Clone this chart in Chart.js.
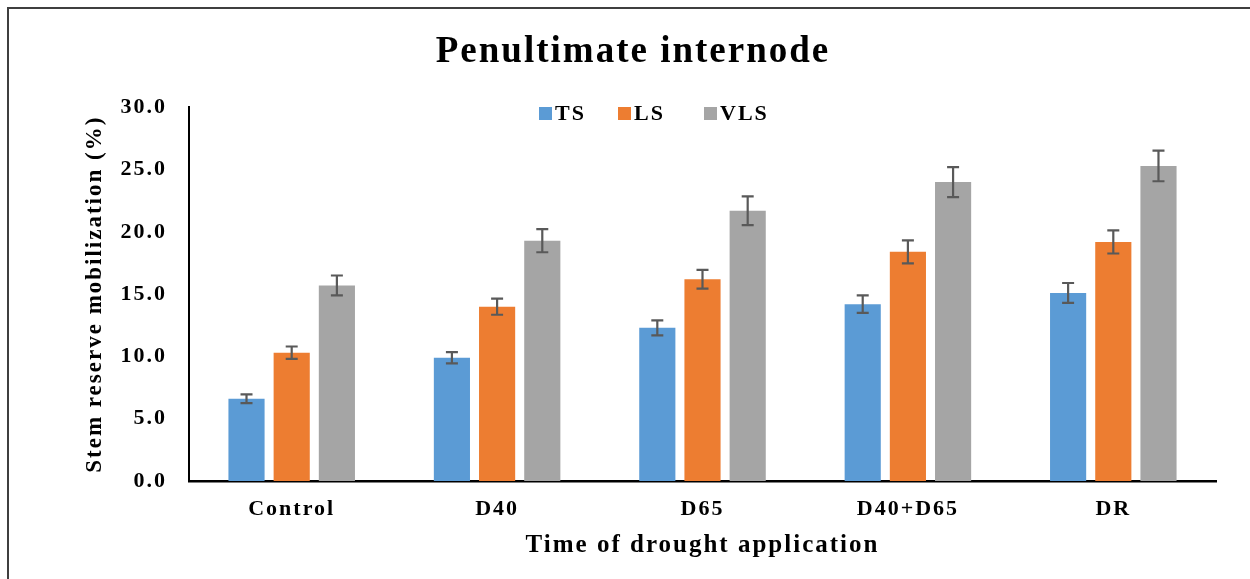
<!DOCTYPE html>
<html lang="en">
<head>
  <meta charset="UTF-8" />
  <title>Penultimate internode</title>
  <script src="https://cdn.jsdelivr.net/npm/chart.js"></script>
  <style>
    html, body {
      margin: 0;
      padding: 0;
      background: #fff;
    }
    .wrap {
      position: relative;
      width: 1250px;
      height: 579px;
    }
    .frame {
      position: absolute;
      left: 7px;
      top: 7px;
      right: -10px;
      bottom: -10px;
      border-left: 2px solid #3f3f3f;
      border-top: 2px solid #3f3f3f;
      pointer-events: none;
    }
  </style>
</head>
<body>
  <div class="wrap">
    <canvas id="chart" width="1250" height="579"></canvas>
    <div class="frame"></div>
  </div>

  <script>
    const categories = ["Control", "D40", "D65", "D40+D65", "DR"];
    const seriesNames = ["TS", "LS", "VLS"];
    const tsValues = [6.6, 9.9, 12.3, 14.2, 15.1];
    const lsValues = [10.3, 14.0, 16.2, 18.4, 19.2];
    const vlsValues = [15.7, 19.3, 21.7, 24.0, 25.3];
    const tsErrors = [0.35, 0.45, 0.6, 0.7, 0.8];
    const lsErrors = [0.5, 0.65, 0.75, 0.93, 0.93];
    const vlsErrors = [0.8, 0.93, 1.15, 1.2, 1.23];
    const yTicks = [0, 5, 10, 15, 20, 25, 30];

    const colors = ["#5b9bd5", "#ed7d31", "#a5a5a5"];
    const serif = "'Liberation Serif', 'Times New Roman', serif";
    const spacing = "2px";

    // the Excel text is set wide, so open up the letters a little
    const wideText = {
      id: "wideText",
      beforeUpdate(chart) { chart.ctx.letterSpacing = spacing; },
      beforeDraw(chart) { chart.ctx.letterSpacing = spacing; }
    };

    // error bars drawn from the y scale
    const errorBars = {
      id: "errorBars",
      afterDatasetsDraw(chart) {
        const ctx = chart.ctx;
        const y = chart.scales.y;
        ctx.save();
        ctx.strokeStyle = "#595959";
        ctx.lineWidth = 2.2;
        chart.data.datasets.forEach((ds, di) => {
          const meta = chart.getDatasetMeta(di);
          meta.data.forEach((bar, i) => {
            const v = ds.data[i];
            const e = ds.errors[i];
            const top = y.getPixelForValue(v + e);
            const bot = y.getPixelForValue(v - e);
            const x = bar.x;
            ctx.beginPath();
            ctx.moveTo(x, top); ctx.lineTo(x, bot);
            ctx.moveTo(x - 6, top); ctx.lineTo(x + 6, top);
            ctx.moveTo(x - 6, bot); ctx.lineTo(x + 6, bot);
            ctx.stroke();
          });
        });
        ctx.restore();
      }
    };

    // legend placed inside the plot, like the Excel original
    const innerLegend = {
      id: "innerLegend",
      afterDraw(chart) {
        const ctx = chart.ctx;
        const xs = [539, 618, 704];
        const cy = 113;
        ctx.save();
        ctx.font = "bold 22px " + serif;
        ctx.textBaseline = "middle";
        ctx.textAlign = "left";
        chart.data.datasets.forEach((ds, i) => {
          ctx.fillStyle = ds.backgroundColor;
          ctx.fillRect(xs[i], cy - 6, 13, 13);
          ctx.fillStyle = "#000";
          ctx.fillText(ds.label, xs[i] + 16, cy + 1);
        });
        ctx.restore();
      }
    };

    const ctx = document.getElementById("chart").getContext("2d");
    new Chart(ctx, {
      type: "bar",
      data: {
        labels: categories,
        datasets: [
          { label: seriesNames[0], data: tsValues, errors: tsErrors, backgroundColor: colors[0] },
          { label: seriesNames[1], data: lsValues, errors: lsErrors, backgroundColor: colors[1] },
          { label: seriesNames[2], data: vlsValues, errors: vlsErrors, backgroundColor: colors[2] }
        ]
      },
      options: {
        responsive: false,
        animation: false,
        datasets: {
          bar: { categoryPercentage: 0.66, barPercentage: 0.8 }
        },
        layout: {
          padding: { left: 50, right: 34, top: 8, bottom: 18 }
        },
        plugins: {
          legend: { display: false },
          tooltip: { enabled: false },
          title: {
            display: true,
            text: "Penultimate internode",
            color: "#000",
            font: { family: serif, size: 37, weight: "bold" },
            padding: { top: 22, bottom: 33 }
          }
        },
        scales: {
          x: {
            grid: { display: false, drawTicks: false },
            border: { color: "#000", width: 2.5 },
            ticks: {
              color: "#000",
              padding: 15,
              font: { family: serif, size: 22, weight: "bold" }
            },
            title: {
              display: true,
              text: "Time of drought application",
              color: "#000",
              font: { family: serif, size: 25, weight: "bold" },
              padding: { top: 6, bottom: 0 }
            },
            afterFit(scale) { scale.height = 80; }
          },
          y: {
            min: 0,
            max: 30,
            afterBuildTicks(scale) {
              scale.ticks = yTicks.map(v => ({ value: v }));
            },
            grid: { display: false, drawTicks: false },
            border: { color: "#000", width: 2 },
            ticks: {
              color: "#000",
              padding: 22,
              font: { family: serif, size: 22, weight: "bold" },
              callback: v => v.toFixed(1)
            },
            title: {
              display: true,
              text: "Stem reserve mobilization (%)",
              color: "#000",
              font: { family: serif, size: 23, weight: "bold" },
              padding: { top: 31, bottom: 0 }
            },
            afterFit(scale) { scale.width = 139; }
          }
        }
      },
      plugins: [wideText, errorBars, innerLegend]
    });
  </script>
</body>
</html>
